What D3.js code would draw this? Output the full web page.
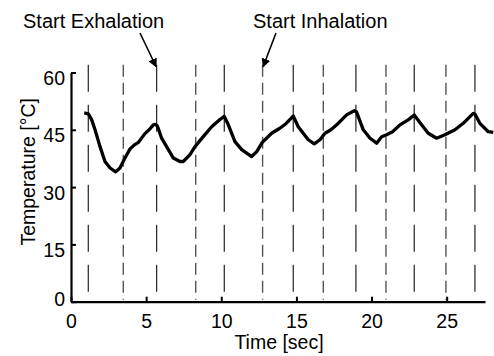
<!DOCTYPE html>
<html>
<head>
<meta charset="utf-8">
<script src="https://cdn.jsdelivr.net/npm/d3@7"></script>
<style>
  body { margin: 0; background: #fff; }
  text { font-family: 'Liberation Sans', Arial, sans-serif; fill: #000; }
</style>
</head>
<body>
<div id="chart"></div>
<script>
const width = 494;
const height = 356;

// breathing temperature trace
const times = [0.88, 1.15, 1.38, 1.6, 1.93, 2.26, 2.6, 2.97, 3.26, 3.59, 3.93, 4.2, 4.48, 4.92, 5.2, 5.48, 5.62, 5.75,
  6.03, 6.48, 6.81, 7.25, 7.47, 7.92, 8.25, 8.8, 9.36, 9.91, 10.2, 10.47, 10.91, 11.36, 12.02, 12.36, 12.73,
  13.35, 13.9, 14.3, 14.79, 15.12, 15.79, 16.19, 16.57, 16.9, 17.3, 17.68, 18.34, 18.85, 19.0, 19.45, 19.9,
  20.34, 20.67, 21.0, 21.4, 21.89, 22.44, 22.84, 23.33, 23.77, 24.33, 24.88, 25.55, 26.1, 26.77, 26.88,
  27.21, 27.77, 28.1];
const temps = [49.4, 49.2, 47.6, 45, 40.6, 36.7, 35, 34, 35, 37.6, 40, 41, 41.7, 44, 45, 46.3, 46.4, 46,
  42.8, 39.8, 37.6, 36.7, 36.7, 38.5, 40.6, 43.2, 45.8, 47.7, 48.5, 46.3, 41.9, 39.8, 38, 39.3, 41.7,
  44.1, 45.4, 46.6, 48.6, 45.8, 42.4, 41.3, 42.4, 44.1, 45, 46.3, 48.9, 50, 49.7, 45, 42.8,
  41.5, 43.2, 43.7, 44.5, 46.3, 47.6, 48.9, 46.3, 44.1, 42.8, 43.7, 45, 46.7, 49.3, 49.1,
  46.7, 44.5, 44.3];

// event markers
const exhaleStarts = [1.15, 5.7, 10.2, 14.79, 18.96, 22.84, 26.88];
const inhaleStarts = [3.48, 8.3, 12.75, 16.79, 20.96, 24.95];

const xTicks = [0, 5, 10, 15, 20, 25];
const yTicks = [0, 15, 30, 45, 60];

const margin = { left: 71, right: 9, top: 72.5, bottom: 54.3 };

const x = d3.scaleLinear().domain([0, 27.55]).range([margin.left, width - margin.right]);
const y = d3.scaleLinear().domain([0, 60]).range([height - margin.bottom, margin.top]);

const svg = d3
  .select('#chart')
  .append('svg')
  .attr('width', width)
  .attr('height', height);

// marker lines
svg
  .selectAll('.exhale')
  .data(exhaleStarts)
  .enter()
  .append('line')
  .attr('x1', (d) => x(d))
  .attr('x2', (d) => x(d))
  .attr('y1', y(62))
  .attr('y2', y(0.5))
  .attr('stroke', '#222')
  .attr('stroke-width', 1.2)
  .attr('stroke-dasharray', '27,13');

svg
  .selectAll('.inhale')
  .data(inhaleStarts)
  .enter()
  .append('line')
  .attr('x1', (d) => x(d))
  .attr('x2', (d) => x(d))
  .attr('y1', y(62))
  .attr('y2', y(0.5))
  .attr('stroke', '#555')
  .attr('stroke-width', 1.4)
  .attr('stroke-dasharray', '12,6');

// axes
const xAxis = svg
  .append('g')
  .attr('transform', `translate(0,${y(0)})`)
  .call(d3.axisTop(x).tickValues(xTicks).tickSize(5).tickSizeOuter(0).tickFormat(d3.format('d')));
xAxis.select('.domain').attr('stroke-width', 2.2);
xAxis.selectAll('.tick line').attr('stroke-width', 2);
xAxis
  .selectAll('.tick text')
  .attr('y', 26)
  .attr('dy', 0)
  .style('font-size', '19.5px');

const yAxis = svg
  .append('g')
  .attr('transform', `translate(${x(0)},0)`)
  .call(d3.axisRight(y).tickValues(yTicks).tickSize(5).tickSizeOuter(0));
yAxis.select('.domain').attr('stroke-width', 2.2);
yAxis.selectAll('.tick line').attr('stroke-width', 2);
yAxis
  .selectAll('.tick text')
  .attr('x', -6)
  .attr('dy', (d) => (d === 0 ? '0.2em' : '0.62em'))
  .attr('text-anchor', 'end')
  .style('font-size', '19.5px');

// temperature trace
const line = d3
  .line()
  .x((d, i) => x(times[i]))
  .y((d) => y(d));

svg
  .append('path')
  .datum(temps)
  .attr('d', line)
  .attr('fill', 'none')
  .attr('stroke', '#000')
  .attr('stroke-width', 3.3)
  .attr('stroke-linejoin', 'round');

// axis titles
svg
  .append('text')
  .attr('x', x(0) + (x(27.55) - x(0)) / 2 + 1)
  .attr('y', 349)
  .attr('text-anchor', 'middle')
  .style('font-size', '19.5px')
  .text('Time [sec]');

svg
  .append('text')
  .attr('transform', `translate(35,${y(34)}) rotate(-90)`)
  .attr('text-anchor', 'middle')
  .style('font-size', '19.5px')
  .text('Temperature [°C]');

// annotations
svg
  .append('defs')
  .append('marker')
  .attr('id', 'arrow')
  .attr('viewBox', '0 0 10 10')
  .attr('refX', 9)
  .attr('refY', 5)
  .attr('markerWidth', 9)
  .attr('markerHeight', 9)
  .attr('markerUnits', 'userSpaceOnUse')
  .attr('orient', 'auto')
  .append('path')
  .attr('d', 'M0,0L10,5L0,10z')
  .attr('fill', '#000');

const notes = [
  { label: 'Start Exhalation', tx: 23, from: [140, 33], at: exhaleStarts[1] },
  { label: 'Start Inhalation', tx: 253, from: [276, 33], at: inhaleStarts[2] },
];

notes.forEach((n) => {
  svg
    .append('text')
    .attr('x', n.tx)
    .attr('y', 28)
    .style('font-size', '20px')
    .text(n.label);
  svg
    .append('line')
    .attr('x1', n.from[0])
    .attr('y1', n.from[1])
    .attr('x2', x(n.at) + (n.from[0] < x(n.at) ? -0.5 : 0.5))
    .attr('y2', y(61.5))
    .attr('stroke', '#000')
    .attr('stroke-width', 1.6)
    .attr('marker-end', 'url(#arrow)');
});
</script>
</body>
</html>
